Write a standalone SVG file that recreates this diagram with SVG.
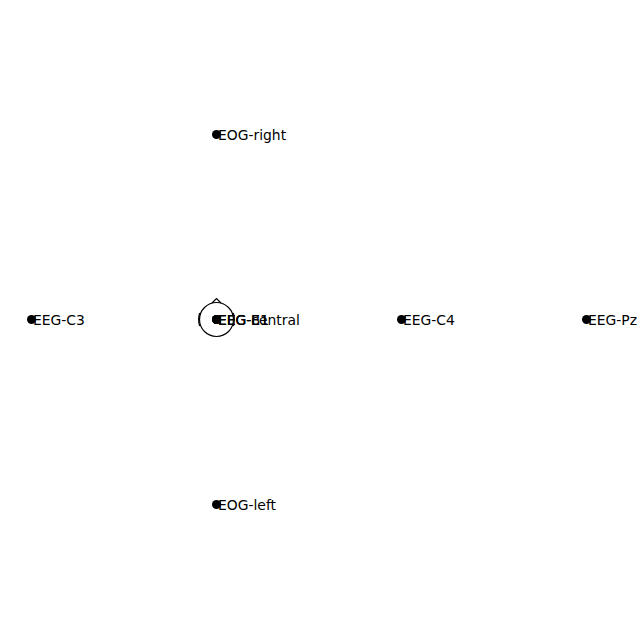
<svg xmlns="http://www.w3.org/2000/svg" width="640" height="640" viewBox="0 0 640 640">
<style>
.dot{fill:#000}
.lbl{font-family:"DejaVu Sans",sans-serif;font-size:13.9px;fill:#000}
.head{fill:none;stroke:#000;stroke-width:1.2}
</style>
<rect width="640" height="640" fill="#fff"/>
<g id="head">
<circle class="head" cx="216.5" cy="319.5" r="17"/>
<polyline class="head" points="212,303 216.5,298.5 221,303"/>
<path class="head" d="M199.7,313 Q197.5,319.5 199.7,326"/>
<path class="head" d="M233.3,313 Q235.5,319.5 233.3,326"/>
</g>
<g id="connectors"></g>
<g id="n-eog-right"><circle class="dot" cx="216.5" cy="134.5" r="4.5"/><text class="lbl" x="218" y="139.5">EOG-right</text></g>
<g id="n-eeg-c3"><circle class="dot" cx="31.5" cy="319.5" r="4.5"/><text class="lbl" x="33" y="324.5">EEG-C3</text></g>
<g id="n-eeg-c4"><circle class="dot" cx="401.5" cy="319.5" r="4.5"/><text class="lbl" x="403" y="324.5">EEG-C4</text></g>
<g id="n-eeg-pz"><circle class="dot" cx="586.5" cy="319.5" r="4.5"/><text class="lbl" x="588" y="324.5">EEG-Pz</text></g>
<g id="n-eog-left"><circle class="dot" cx="216.5" cy="504.5" r="4.5"/><text class="lbl" x="218" y="509.5">EOG-left</text></g>
<g id="n-eeg-central"><circle class="dot" cx="216.5" cy="319.5" r="4.5"/><text class="lbl" x="218" y="324.5">EEG-central</text></g>
<g id="n-eeg-e1"><circle class="dot" cx="216.5" cy="319.5" r="4.5"/><text class="lbl" x="218" y="324.5">EEG-E1</text></g>
<g id="n-eeg-b1"><circle class="dot" cx="216.5" cy="319.5" r="4.5"/><text class="lbl" x="218" y="324.5">EEG-B1</text></g>
</svg>
